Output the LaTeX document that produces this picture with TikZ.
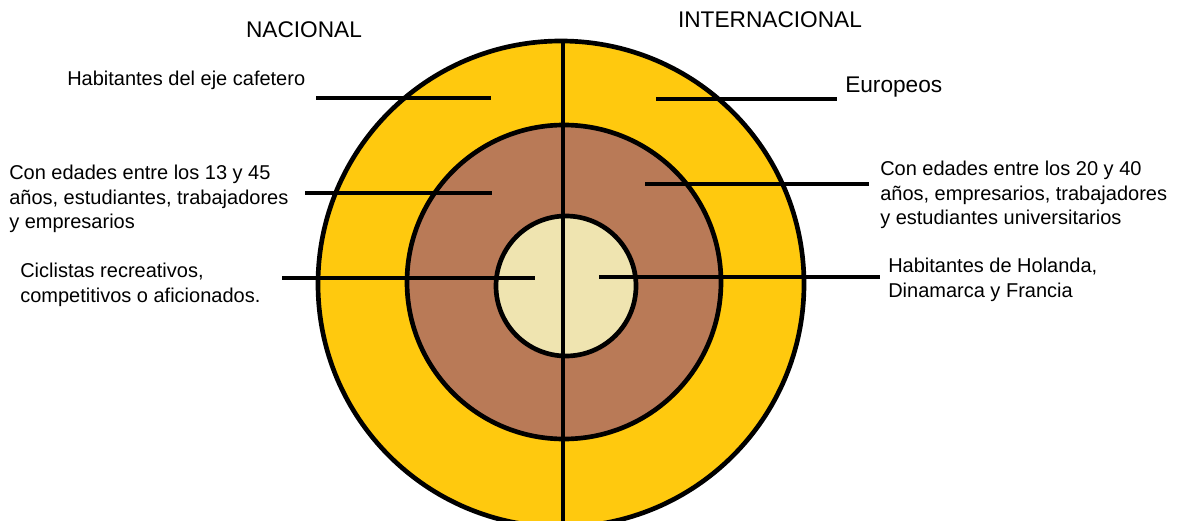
\documentclass[tikz,border=0pt]{standalone}
\usepackage{fontspec}
\setmainfont{Liberation Sans}
\definecolor{gold}{RGB}{255,201,14}
\definecolor{brownring}{RGB}{185,122,87}
\definecolor{paleyellow}{RGB}{239,228,176}
\begin{document}
\begin{tikzpicture}[x=0.75pt,y=-0.75pt,
  ring/.style={circle,draw=black,line width=3.5pt,inner sep=0pt},
  leader/.style={line width=3.5pt,draw=black},
  lbl/.style={inner sep=0pt,align=left,anchor=west,font=\fontsize{15pt}{18.4pt}\selectfont},
  head/.style={inner sep=0pt,font=\fontsize{17pt}{20pt}\selectfont}]
\useasboundingbox (0,0) rectangle (1183,521);
\clip (0,0) rectangle (1183,521);
\node[ring,fill=gold,minimum size=364.5pt] (outer) at (561,284) {};
\node[ring,fill=brownring,minimum size=235.5pt] (middle) at (564,282) {};
\node[ring,fill=paleyellow,minimum size=105pt] (inner) at (566,286) {};
\coordinate (vt) at (563,42);
\coordinate (vb) at (563,530);
\draw[leader] (vt) -- (vb);
% headings
\node[head] (nac) at (304,30) {NACIONAL};
\node[head] (int) at (770,20) {INTERNACIONAL};
% labels
\node[lbl] (l1) at (67,80) {Habitantes del eje cafetero};
\node[lbl] (l2) at (9,199) {Con edades entre los 13 y 45\\años, estudiantes, trabajadores\\y empresarios};
\node[lbl] (l3) at (20,285) {Ciclistas recreativos,\\competitivos o aficionados.};
\node[lbl,font=\fontsize{17pt}{20pt}\selectfont] (r1) at (845,87) {Europeos};
\node[lbl] (r2) at (880,195) {Con edades entre los 20 y 40\\años, empresarios, trabajadores\\y estudiantes universitarios};
\node[lbl] (r3) at (888,280) {Habitantes de Holanda,\\Dinamarca y Francia};
% leader lines
\coordinate (a1) at (316,98); \coordinate (b1) at (491,98);
\coordinate (a2) at (305,193); \coordinate (b2) at (492,193);
\coordinate (a3) at (282,278); \coordinate (b3) at (535,278);
\coordinate (c1) at (656,99); \coordinate (d1) at (837,99);
\coordinate (c2) at (645,184); \coordinate (d2) at (869,184);
\coordinate (c3) at (599,277); \coordinate (d3) at (880,277);
\draw[leader] (a1) -- (b1);
\draw[leader] (a2) -- (b2);
\draw[leader] (a3) -- (b3);
\draw[leader] (c1) -- (d1);
\draw[leader] (c2) -- (d2);
\draw[leader] (c3) -- (d3);
\end{tikzpicture}
\end{document}
